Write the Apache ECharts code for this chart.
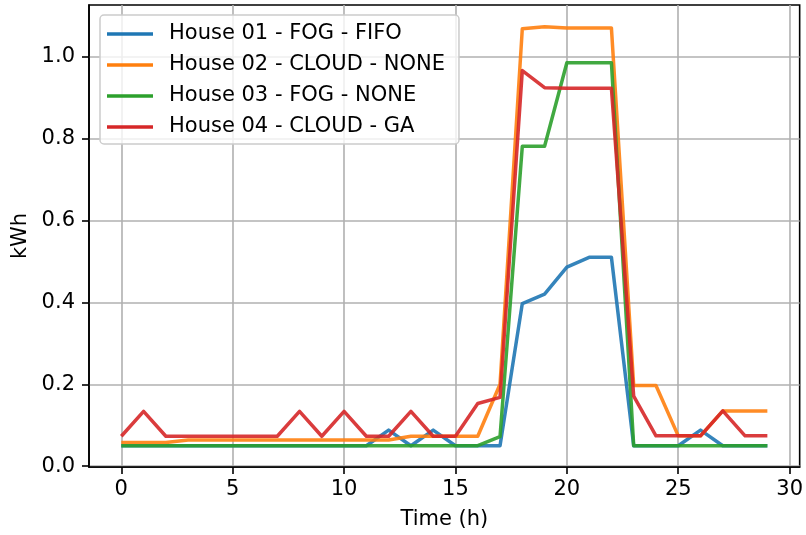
<!DOCTYPE html>
<html>
<head>
<meta charset="utf-8">
<script src="https://cdn.jsdelivr.net/npm/echarts@6/dist/echarts.min.js"></script>
<style>html,body{margin:0;padding:0;background:#fff}#c{width:806px;height:535px}</style>
</head>
<body>
<div id="c"></div>
<script>
const hours = [0,1,2,3,4,5,6,7,8,9,10,11,12,13,14,15,16,17,18,19,20,21,22,23,24,25,26,27,28,29];
const seriesNames = ['House 01 - FOG - FIFO','House 02 - CLOUD - NONE','House 03 - FOG - NONE','House 04 - CLOUD - GA'];
const house01 = [0.05,0.05,0.05,0.05,0.05,0.05,0.05,0.05,0.05,0.05,0.05,0.05,0.088,0.05,0.088,0.05,0.05,0.05,0.397,0.42,0.486,0.51,0.51,0.05,0.05,0.05,0.088,0.05,0.05,0.05];
const house02 = [0.058,0.058,0.058,0.064,0.064,0.064,0.064,0.064,0.064,0.064,0.064,0.064,0.064,0.073,0.073,0.073,0.073,0.2,1.068,1.073,1.07,1.07,1.07,0.197,0.197,0.074,0.074,0.135,0.135,0.135];
const house03 = [0.05,0.05,0.05,0.05,0.05,0.05,0.05,0.05,0.05,0.05,0.05,0.05,0.05,0.05,0.05,0.05,0.05,0.072,0.781,0.781,0.985,0.985,0.985,0.05,0.05,0.05,0.05,0.05,0.05,0.05];
const house04 = [0.073,0.134,0.073,0.073,0.073,0.073,0.073,0.073,0.134,0.073,0.134,0.073,0.073,0.134,0.073,0.073,0.153,0.168,0.966,0.924,0.923,0.923,0.923,0.171,0.074,0.074,0.074,0.135,0.074,0.074];
const xTicks = [0,5,10,15,20,25,30];
const yTicks = [0,0.2,0.4,0.6,0.8,1.0];
const colors = ['#1f77b4','#ff7f0e','#2ca02c','#d62728'];
const allData = [house01, house02, house03, house04];

const font = 'DejaVu Sans';
const fs = 21;
const chart = echarts.init(document.getElementById('c'), null, {renderer:'canvas'});
chart.setOption({
  animation: false,
  color: colors,
  textStyle: {fontFamily: font},
  grid: {left: 89, right: 3, top: 5, bottom: 67, show: true, borderColor: '#000', borderWidth: 1.6, backgroundColor: 'transparent'},
  legend: {
    orient: 'vertical', left: 100, top: 15,
    data: seriesNames,
    icon: 'rect', itemWidth: 46, itemHeight: 3.5, itemGap: 9,
    padding: [8, 14, 6, 7],
    backgroundColor: 'rgba(255,255,255,0.8)',
    borderColor: '#cccccc', borderWidth: 1.5, borderRadius: 4,
    textStyle: {fontFamily: font, fontSize: fs, color: '#000', lineHeight: 22, padding: [0,0,0,11]}
  },
  xAxis: {
    type: 'value', min: -1.45, max: 30.45,
    name: 'Time (h)', nameLocation: 'middle', nameGap: 42,
    nameTextStyle: {fontFamily: font, fontSize: fs, color: '#000'},
    axisLine: {show: true, onZero: false, lineStyle: {color: '#000', width: 1.6}},
    axisTick: {show: true, inside: false, length: 7, lineStyle: {color: '#000', width: 1.6}, customValues: xTicks},
    axisLabel: {customValues: xTicks, fontFamily: font, fontSize: fs, color: '#000', margin: 12},
    splitLine: {show: true, lineStyle: {color: '#b0b0b0', width: 1.6}}
  },
  yAxis: {
    type: 'value', min: -0.002, max: 1.126,
    name: 'kWh', nameLocation: 'middle', nameGap: 58,
    nameTextStyle: {fontFamily: font, fontSize: fs, color: '#000'},
    axisLine: {show: true, onZero: false, lineStyle: {color: '#000', width: 1.6}},
    axisTick: {show: true, inside: false, length: 7, lineStyle: {color: '#000', width: 1.6}, customValues: yTicks},
    axisLabel: {customValues: yTicks, fontFamily: font, fontSize: fs, color: '#000', margin: 14, formatter: v => v.toFixed(1)},
    splitLine: {show: true, lineStyle: {color: '#b0b0b0', width: 1.6}}
  },
  series: seriesNames.map((n, i) => ({
    name: n, type: 'line', showSymbol: false, symbol: 'none',
    data: hours.map((h, j) => [h, allData[i][j]]),
    lineStyle: {width: 3.5, color: colors[i], opacity: 0.9, join: 'round'},
    itemStyle: {color: colors[i]},
    z: 2 + i
  }))
});
</script>
</body>
</html>
